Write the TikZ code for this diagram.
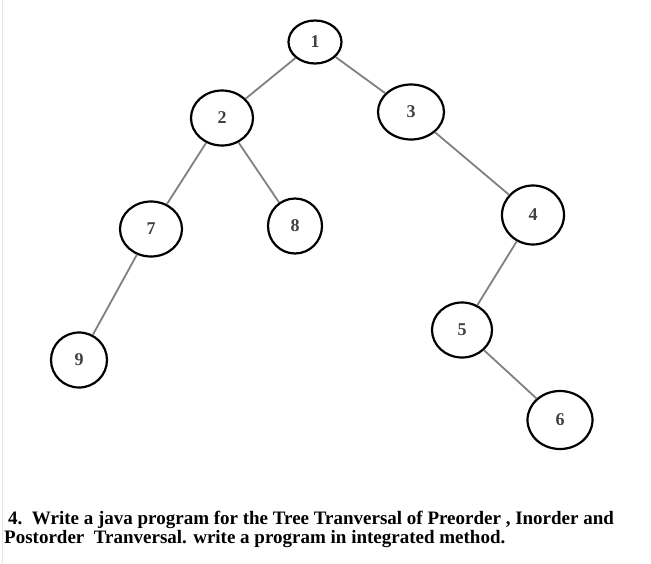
\documentclass[tikz,border=0pt]{standalone}
\usepackage{fontspec}
\setmainfont{Liberation Serif}
\usepackage{tikz}
\usetikzlibrary{shapes,positioning}

\begin{document}
\begin{tikzpicture}[x=1pt, y=-1pt,
    vertex/.style={draw, ellipse, line width=2.2pt, minimum width=62pt, minimum height=55pt, inner sep=0pt, font=\bfseries\fontsize{18}{20}\selectfont, text=black!75},
    branch/.style={draw=black!50, line width=1.8pt},
    caption/.style={anchor=base west, inner sep=0pt, font=\bfseries\fontsize{19}{19}\selectfont}]
    \useasboundingbox (0,0) rectangle (651,563);
    \draw[black!10, line width=0.8pt] (2,0) -- (2,563);

    \node[vertex, minimum width=53pt, minimum height=43pt] (n1) at (315,42) {1};
    \node[vertex] (n2) at (222,118) {2};
    \node[vertex, minimum width=66pt] (n3) at (411,112) {3};
    \node[vertex] (n7) at (151,229) {7};
    \node[vertex, minimum width=54pt] (n8) at (295,226) {8};
    \node[vertex, minimum height=59pt] (n4) at (533,215) {4};
    \node[vertex, minimum width=60pt] (n5) at (462,330) {5};
    \node[vertex, minimum width=56pt] (n9) at (79,360) {9};
    \node[vertex, minimum width=65pt, minimum height=58pt] (n6) at (560,420) {6};

    \draw[branch] (n1) -- (n2);
    \draw[branch] (n1) -- (n3);
    \draw[branch] (n2) -- (n7);
    \draw[branch] (n2) -- (n8);
    \draw[branch] (n7) -- (n9);
    \draw[branch] (n3) -- (n4);
    \draw[branch] (n4) -- (n5);
    \draw[branch] (n5) -- (n6);

    \node[caption] (line1) at (8,524) {4.\ \ Write a java program for the Tree Tranversal of Preorder , Inorder and};
    \node[caption] (line2) at (4,543) {Postorder\ \ Tranversal. write a program in integrated method.};
\end{tikzpicture}
\end{document}
